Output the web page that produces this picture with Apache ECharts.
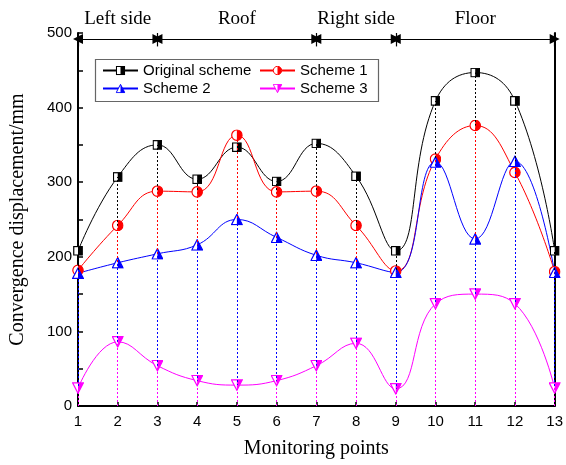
<!DOCTYPE html>
<html>
<head>
<meta charset="utf-8">
<script src="https://cdn.jsdelivr.net/npm/echarts@6/dist/echarts.min.js"></script>
<style>
  html, body { margin: 0; padding: 0; background: #fff; }
  #chart { width: 566px; height: 465px; }
</style>
</head>
<body>
<div id="chart"></div>
<script>
const monitoringPoints = [1, 2, 3, 4, 5, 6, 7, 8, 9, 10, 11, 12, 13];
const originalScheme = [208, 307, 350, 304, 347, 301, 352, 308, 208, 409, 447, 409, 208];
const scheme1 = [182, 242, 288, 287, 363, 287, 288, 242, 181, 331, 376, 313, 180];
const scheme2 = [178, 192, 204, 216, 250, 226, 202, 192, 179, 327, 224, 328, 179];
const scheme3 = [24, 86, 54, 34, 28, 34, 54, 84, 23, 137, 150, 137, 24];

// zones along the section, bounded by monitoring points
const zoneNames = ['Left side', 'Roof', 'Right side', 'Floor'];
const zoneBounds = [1, 3, 7, 9, 13];
const zoneLevel = 492;

const serif = 'Liberation Serif, Times New Roman, serif';
const sans = 'Liberation Sans, Arial, sans-serif';

// half-filled marker (left half white, right half coloured) as svg image
function halfSymbol(shape, color) {
  let body = '';
  if (shape === 'square') {
    body = `<rect x="0.75" y="0.75" width="8.5" height="8.5" fill="#fff" stroke="${color}" stroke-width="1.2"/>` +
           `<rect x="5" y="0.75" width="4.25" height="8.5" fill="${color}"/>`;
    return 'image://data:image/svg+xml;charset=utf-8,' + encodeURIComponent(
      `<svg xmlns="http://www.w3.org/2000/svg" width="10" height="10" viewBox="0 0 10 10">${body}</svg>`);
  }
  if (shape === 'circle') {
    body = `<circle cx="6" cy="6" r="5.2" fill="#fff" stroke="${color}" stroke-width="1.2"/>` +
           `<path d="M6 0.8 A5.2 5.2 0 0 1 6 11.2 Z" fill="${color}"/>`;
  } else if (shape === 'up') {
    body = `<polygon points="6,0.8 11.4,11.2 0.6,11.2" fill="#fff" stroke="${color}" stroke-width="1.2"/>` +
           `<polygon points="6,0.8 11.4,11.2 6,11.2" fill="${color}"/>`;
  } else {
    body = `<polygon points="0.6,0.8 11.4,0.8 6,11.2" fill="#fff" stroke="${color}" stroke-width="1.2"/>` +
           `<polygon points="6,0.8 11.4,0.8 6,11.2" fill="${color}"/>`;
  }
  return 'image://data:image/svg+xml;charset=utf-8,' + encodeURIComponent(
    `<svg xmlns="http://www.w3.org/2000/svg" width="12" height="12" viewBox="0 0 12 12">${body}</svg>`);
}

function pairs(values) {
  return monitoringPoints.map((x, i) => [x, values[i]]);
}

// dotted drop line from each point down to the x axis
function dropLines(values, color) {
  return {
    silent: true,
    symbol: ['none', 'none'],
    label: { show: false },
    animation: false,
    lineStyle: { type: [2, 2], color: color, width: 1 },
    emphasis: { disabled: true },
    data: monitoringPoints.map((x, i) => [{ coord: [x, 0] }, { coord: [x, values[i]] }])
  };
}

function makeSeries(name, values, color, shape, size) {
  return {
    name: name,
    type: 'line',
    data: pairs(values),
    smooth: 0.45,
    symbol: halfSymbol(shape, color),
    symbolSize: size,
    itemStyle: { color: color },
    lineStyle: { color: color, width: 1 },
    markLine: dropLines(values, color),
    z: 3
  };
}

const zoneLines = zoneNames.map((n, i) => [
  { coord: [zoneBounds[i], zoneLevel], name: n },
  { coord: [zoneBounds[i + 1], zoneLevel] }
]).concat(zoneBounds.map(b => [
  { coord: [b, 482], symbol: 'none', label: { show: false } },
  { coord: [b, 500], symbol: 'none' }
]));

const legendText = { fontFamily: sans, fontSize: 15, color: '#000' };
function legendColumn(names, left) {
  return {
    data: names,
    orient: 'vertical',
    left: left,
    top: 63,
    itemWidth: 35,
    itemHeight: 12,
    itemGap: 3,
    padding: 0,
    textStyle: legendText
  };
}

const chart = echarts.init(document.getElementById('chart'));

chart.setOption({
  backgroundColor: '#fff',
  animation: false,
  grid: { left: 74, right: 10, top: 33, bottom: 59 },
  legend: [
    legendColumn(['Original scheme', 'Scheme 2'], 102),
    legendColumn(['Scheme 1', 'Scheme 3'], 259)
  ],
  graphic: [{
    type: 'rect',
    left: 93,
    top: 57,
    shape: { width: 283, height: 42 },
    style: { fill: 'none', stroke: '#666', lineWidth: 1.2 },
    silent: true
  }],
  xAxis: {
    type: 'value',
    min: 1,
    max: 13,
    interval: 1,
    name: 'Monitoring points',
    nameLocation: 'middle',
    nameGap: 33,
    nameTextStyle: { fontFamily: serif, fontSize: 20, color: '#000' },
    axisLine: { lineStyle: { color: '#000', width: 2 } },
    axisTick: { inside: true, length: 4, lineStyle: { color: '#000', width: 1.5 } },
    axisLabel: { fontFamily: sans, fontSize: 15, color: '#000', margin: 8 },
    splitLine: { show: false }
  },
  yAxis: [
    {
      type: 'value',
      min: 0,
      max: 500,
      interval: 100,
      name: 'Convergence displacement/mm',
      nameLocation: 'middle',
      nameGap: 50,
      nameTextStyle: { fontFamily: serif, fontSize: 20, color: '#000' },
      axisLine: { show: true, lineStyle: { color: '#000', width: 2 } },
      axisTick: { inside: true, length: 5, lineStyle: { color: '#000', width: 1.5 } },
      minorTick: { show: true, splitNumber: 2, length: 5, lineStyle: { color: '#000', width: 1.5 } },
      axisLabel: { fontFamily: sans, fontSize: 15, color: '#000', margin: 6 },
      splitLine: { show: false }
    },
    {
      type: 'value',
      min: 0,
      max: 500,
      position: 'right',
      axisLine: { show: true, lineStyle: { color: '#000', width: 2 } },
      axisTick: { show: false },
      axisLabel: { show: false },
      splitLine: { show: false }
    }
  ],
  series: [
    makeSeries('Original scheme', originalScheme, '#000000', 'square', 10),
    makeSeries('Scheme 1', scheme1, '#ff0000', 'circle', 12),
    makeSeries('Scheme 2', scheme2, '#0000ff', 'up', 12),
    makeSeries('Scheme 3', scheme3, '#ff00ff', 'down', 12),
    {
      name: 'zones',
      type: 'line',
      data: [],
      clip: false,
      markLine: {
        silent: true,
        animation: false,
        symbol: ['triangle', 'triangle'],
        symbolSize: 10,
        lineStyle: { type: 'solid', color: '#000', width: 1.2 },
        label: {
          show: true,
          position: 'middle',
          distance: 10,
          formatter: p => p.name || '',
          fontFamily: serif,
          fontSize: 19,
          color: '#000'
        },
        emphasis: { disabled: true },
        data: zoneLines
      }
    }
  ]
});
</script>
</body>
</html>
